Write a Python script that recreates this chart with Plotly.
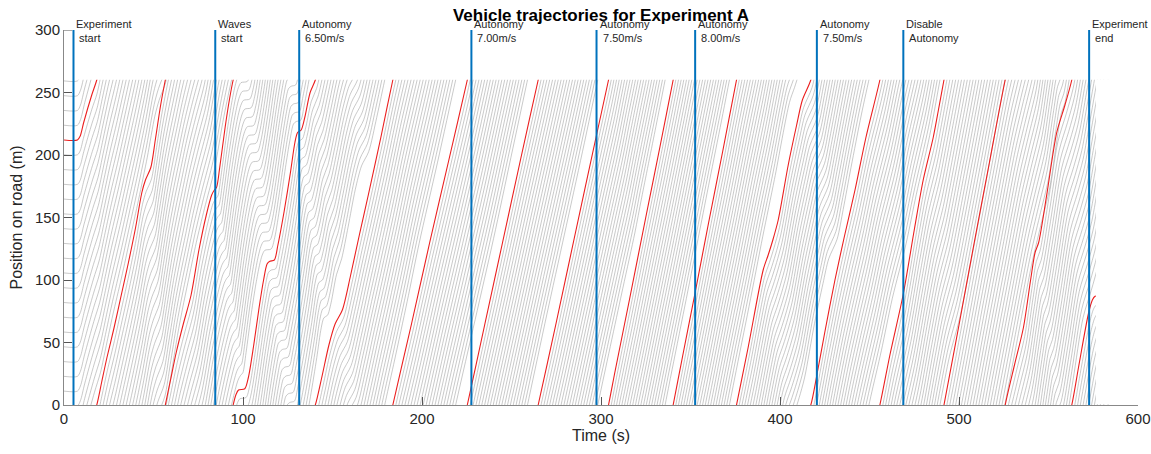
import numpy as np
import plotly.graph_objects as go

# ---------------- data ----------------
ROAD_LEN = 260.0      # ring road length (m)
N_VEH = 22            # vehicles on the ring (1 red + 21 grey)

# red (highlighted) vehicle, one list per lap: time (s) and position on road (m)
red_lap_t = [
    [0, 7.5, 9, 11, 15.5, 18.3],
    [18.3, 21, 24, 28, 32, 36, 40, 43.5, 45.5, 48.5, 51, 54, 56.6],
    [56.6, 59.5, 62.7, 66.5, 71, 75.5, 79.5, 82.5, 84, 85.2, 87, 90, 92.5, 94.5],
    [94.5, 96, 97.5, 101, 103, 106, 109, 111.5, 113.5, 115, 117.5, 119.5, 123, 126.5, 129, 130.5, 132.5, 134.5, 137.5, 140.4],
    [140.4, 144, 148, 151.5, 155.5, 160, 165, 170, 177, 183.7],
    [183.7, 194, 204.3, 215, 225.3],
    [225.3, 235, 245, 255, 264.9],
    [264.9, 275, 285, 297.5, 304.2],
    [304.2, 308, 316, 325, 333, 340.3],
    [340.3, 346, 352.6, 360, 368, 375.7],
    [375.7, 382.2, 390.6, 393.4, 396, 399, 404.6, 409.3, 412.5, 417.2],
    [417.2, 420.6, 425, 430.7, 436, 441.9, 448, 455.8],
    [455.8, 461.4, 468.9, 475, 480, 485.6, 488.5, 491.6],
    [491.6, 500, 508, 517, 525.8],
    [525.8, 531, 536, 540, 542.5, 544.5, 549, 554.6, 559.2, 563],
    [563, 567, 572.3, 574.5, 576, 578],
]
red_lap_pos = [
    [212, 212, 215, 226, 248, 260],
    [0, 18, 38, 62, 88, 114, 142, 170, 180, 190, 212, 240, 260],
    [0, 20, 42, 64, 88, 125, 152, 168, 172, 174, 190, 222, 245, 260],
    [0, 8, 12, 13, 22, 48, 78, 100, 113, 115, 116, 128, 155, 186, 210, 218, 220, 230, 250, 260],
    [0, 22, 48, 65, 76, 103, 136, 168, 214, 260],
    [0, 64, 130, 196, 260],
    [0, 64, 130, 196, 260],
    [0, 66, 133, 216, 260],
    [0, 28, 85, 150, 207, 260],
    [0, 42, 90, 145, 203, 260],
    [0, 46, 108, 120, 132, 148, 192, 224, 244, 260],
    [0, 24, 58, 100, 135, 172, 214, 260],
    [0, 40, 89, 140, 180, 214, 236, 260],
    [0, 64, 126, 194, 260],
    [0, 32, 62, 100, 122, 130, 168, 218, 240, 260],
    [0, 32, 73, 84, 87, 87],
]

# event markers
event_t = [5.3, 84.5, 131.4, 227.6, 297.5, 352.6, 420.6, 468.9, 572.7]
event_line1 = ["Experiment", "Waves", "Autonomy", "Autonomy", "Autonomy",
               "Autonomy", "Autonomy", "Disable", "Experiment"]
event_line2 = ["start", "start", "6.50m/s", "7.00m/s", "7.50m/s",
               "8.00m/s", "7.50m/s", "Autonomy", "end"]

# extra gap the red vehicle keeps ahead of it (white band in the picture)
extra_gap_t = [0, 135, 150, 200, 260, 340, 380, 450, 470, 490, 600]
extra_gap_m = [0, 0, 15, 20, 26, 28, 24, 20, 15, 0, 0]

# following behaviour of the grey vehicles (delay ramps in after the start)
follow_ramp_t = [0, 8, 80, 600]
follow_ramp_g = [0, 0, 1, 1]
TAU = 0.7        # reaction delay between consecutive vehicles (s)
V_MEAN = 6.8     # mean speed (m/s)
T_END = 576.5    # end of recorded trajectories (s)

# ---------------- build trajectories ----------------
t_r, X_r = [], []
for lap, (ts, ps) in enumerate(zip(red_lap_t, red_lap_pos)):
    for i, (t, p) in enumerate(zip(ts, ps)):
        if lap > 0 and i == 0:
            continue
        t_r.append(t)
        X_r.append(p + ROAD_LEN * lap)
t_r = np.array(t_r, float)
X_r = np.array(X_r, float)

g = np.interp(t_r, follow_ramp_t, follow_ramp_g)
E = np.interp(t_r, extra_gap_t, extra_gap_m)
spacing = (ROAD_LEN - E) / N_VEH - V_MEAN * TAU * g


def wrapped_segments(tt, XX):
    xs, ys = [], []
    n = len(tt)
    for m in range(-2, int(XX.max() // ROAD_LEN) + 2):
        Y = XX - ROAD_LEN * m
        idx = np.where((Y >= 0) & (Y <= ROAD_LEN))[0]
        if len(idx) == 0:
            cross = np.where((Y[:-1] < 0) & (Y[1:] > ROAD_LEN))[0]
            if len(cross) == 0:
                continue
            i0, i1 = cross[0], cross[0] + 1
        else:
            i0, i1 = idx[0], idx[-1]
        a, b = max(i0 - 2, 0), min(i1 + 2, n - 1)
        xs += list(tt[a:b + 1]) + [None]
        ys += list(Y[a:b + 1]) + [None]
    return xs, ys


gx, gy = [], []
for k in range(1, N_VEH):
    tk = t_r + k * TAU * g
    Xk = X_r - k * spacing
    xs, ys = wrapped_segments(tk, Xk)
    gx += xs
    gy += ys

rx, ry = wrapped_segments(t_r, X_r)

fig = go.Figure()
fig.add_trace(go.Scatter(x=gx, y=gy, mode="lines",
                         line=dict(color="rgb(165,165,165)", width=0.6, shape="spline", smoothing=0.8),
                         hoverinfo="skip", showlegend=False))
fig.add_trace(go.Scatter(x=rx, y=ry, mode="lines",
                         line=dict(color="rgb(235,30,30)", width=1.1, shape="spline", smoothing=0.8),
                         hoverinfo="skip", showlegend=False))

AX_COL = "#888"
shapes = [
    dict(type="rect", xref="x", yref="y", x0=0.5, x1=598, y0=ROAD_LEN + 0.3, y1=302,
         fillcolor="white", line=dict(width=0), layer="above"),
    dict(type="rect", xref="x", yref="y", x0=T_END, x1=598, y0=0.6, y1=ROAD_LEN + 0.5,
         fillcolor="white", line=dict(width=0), layer="above"),
    # y tick at 300 (covered by the mask otherwise)
    dict(type="line", xref="x", yref="y", x0=0, x1=4.6, y0=300, y1=300,
         line=dict(color="#555", width=1), layer="above"),
]
for et in event_t:
    shapes.append(dict(type="line", xref="x", yref="y", x0=et, x1=et, y0=0, y1=300,
                       line=dict(color="#0072BD", width=2), layer="above"))

FONT = "Arial, Liberation Sans, Helvetica, sans-serif"
annotations = []
for et, l1, l2 in zip(event_t, event_line1, event_line2):
    annotations.append(dict(x=et, y=300, xref="x", yref="y", xanchor="left", yanchor="middle",
                            text=l1 + "<br>\u00a0" + l2, align="left", showarrow=False,
                            font=dict(family=FONT, size=11, color="#262626"),
                            xshift=1, yshift=-1))

FIG_W, FIG_H = 1151, 454
fig.update_layout(
    width=FIG_W, height=FIG_H,
    margin=dict(l=64, r=13, t=30, b=49),
    paper_bgcolor="white", plot_bgcolor="white",
    title=dict(text="<b>Vehicle trajectories for Experiment A</b>", x=601 / FIG_W, xanchor="center",
               y=1 - 15 / FIG_H, yanchor="middle", font=dict(family=FONT, size=17, color="black")),
    shapes=shapes, annotations=annotations,
    font=dict(family=FONT, color="#262626"),
)
fig.update_xaxes(range=[0, 600], tickvals=[0, 100, 200, 300, 400, 500, 600],
                 ticks="inside", ticklen=8, tickcolor="#555", showline=True, linecolor=AX_COL,
                 linewidth=1, showgrid=False, zeroline=False, mirror=False, automargin=False,
                 tickfont=dict(size=15, family=FONT, color="#262626"),
                 title=dict(text="Time (s)", font=dict(size=16, family=FONT, color="#262626"), standoff=3))
fig.update_yaxes(range=[0, 300], tickvals=[0, 50, 100, 150, 200, 250, 300],
                 ticks="inside", ticklen=8, tickcolor="#555", showline=True, linecolor=AX_COL,
                 linewidth=1, showgrid=False, zeroline=False, mirror=False, automargin=False,
                 tickfont=dict(size=15, family=FONT, color="#262626"),
                 title=dict(text="Position on road (m)", font=dict(size=16, family=FONT, color="#262626"), standoff=8))

# remove the default page margin so the figure fills the window exactly
fig.write_html("out.html", config={"displayModeBar": False},
               post_script="document.body.style.margin='0';document.body.style.overflow='hidden';")
